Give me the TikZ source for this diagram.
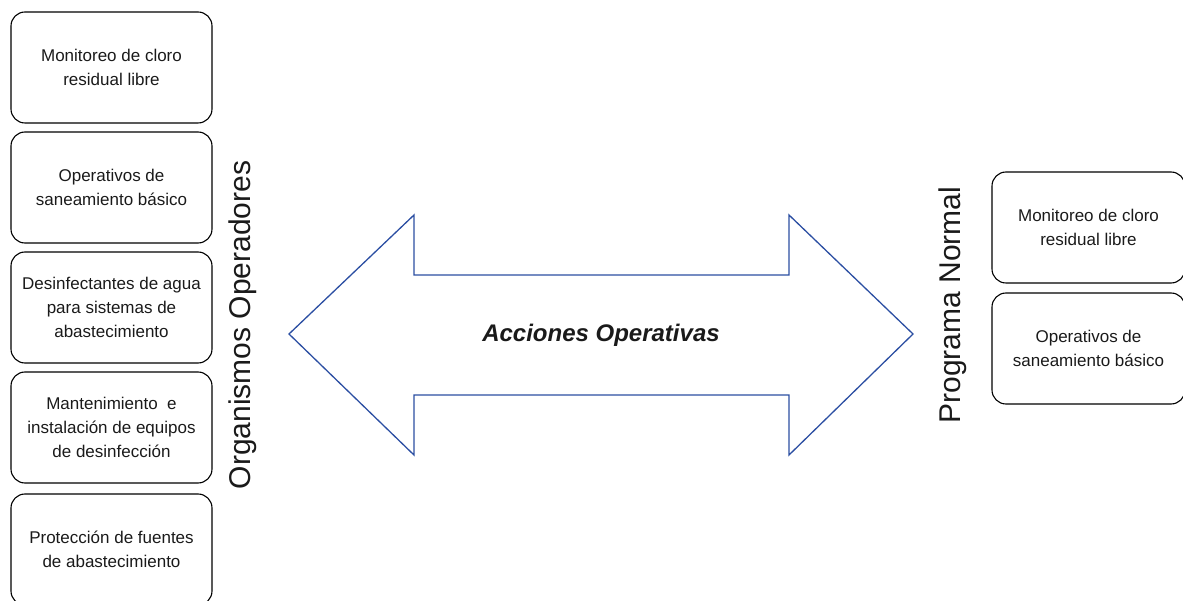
\documentclass[tikz,border=0pt]{standalone}
\usepackage{fontspec}
\setmainfont{Liberation Sans}
\usetikzlibrary{positioning}
\definecolor{myBlue}{HTML}{2B4EA2}
\definecolor{myInk}{HTML}{1A1A1A}

\begin{document}
\begin{tikzpicture}[x=1pt, y=-1pt,
  box/.style={draw=black, line width=1.1pt, rounded corners=14pt,
              minimum width=201pt, minimum height=111pt, inner sep=0pt,
              font=\fontsize{17}{24}\selectfont, text=myInk, align=center},
  side/.style={rotate=90, font=\fontsize{30}{36}\selectfont, text=myInk}
]
\clip (0,0) rectangle (1183,601);
% left column
\node[box] (monL) at (111.5,67.5)  {Monitoreo de cloro\\residual libre};
\node[box] (opeL) at (111.5,187.5) {Operativos de\\saneamiento b\'asico};
\node[box] (des)  at (111.5,307.5) {Desinfectantes de agua\\para sistemas de\\abastecimiento};
\node[box] (man)  at (111.5,427.5) {Mantenimiento\ \ e\\instalaci\'on de equipos\\de desinfecci\'on};
\node[box] (pro)  at (111.5,549.5) {Protecci\'on de fuentes\\de abastecimiento};
\node[side] (org) at (243,325) {Organismos Operadores};
% double arrow
\draw[myBlue, line width=1.3pt, line join=miter]
  (289,334) -- (414,215) -- (414,275) -- (789,275) -- (789,215) -- (913,334)
  -- (789,455) -- (789,395) -- (414,395) -- (414,455) -- cycle;
\node[font=\bfseries\itshape\fontsize{24}{28}\selectfont, text=myInk] (acc) at (601,335) {Acciones Operativas};
% right column
\node[side] (prog) at (953,305) {Programa Normal};
\node[box, minimum width=193pt] (monR) at (1088.5,227.5) {Monitoreo de cloro\\residual libre};
\node[box, minimum width=193pt] (opeR) at (1088.5,348.5) {Operativos de\\saneamiento b\'asico};
\end{tikzpicture}
\end{document}
